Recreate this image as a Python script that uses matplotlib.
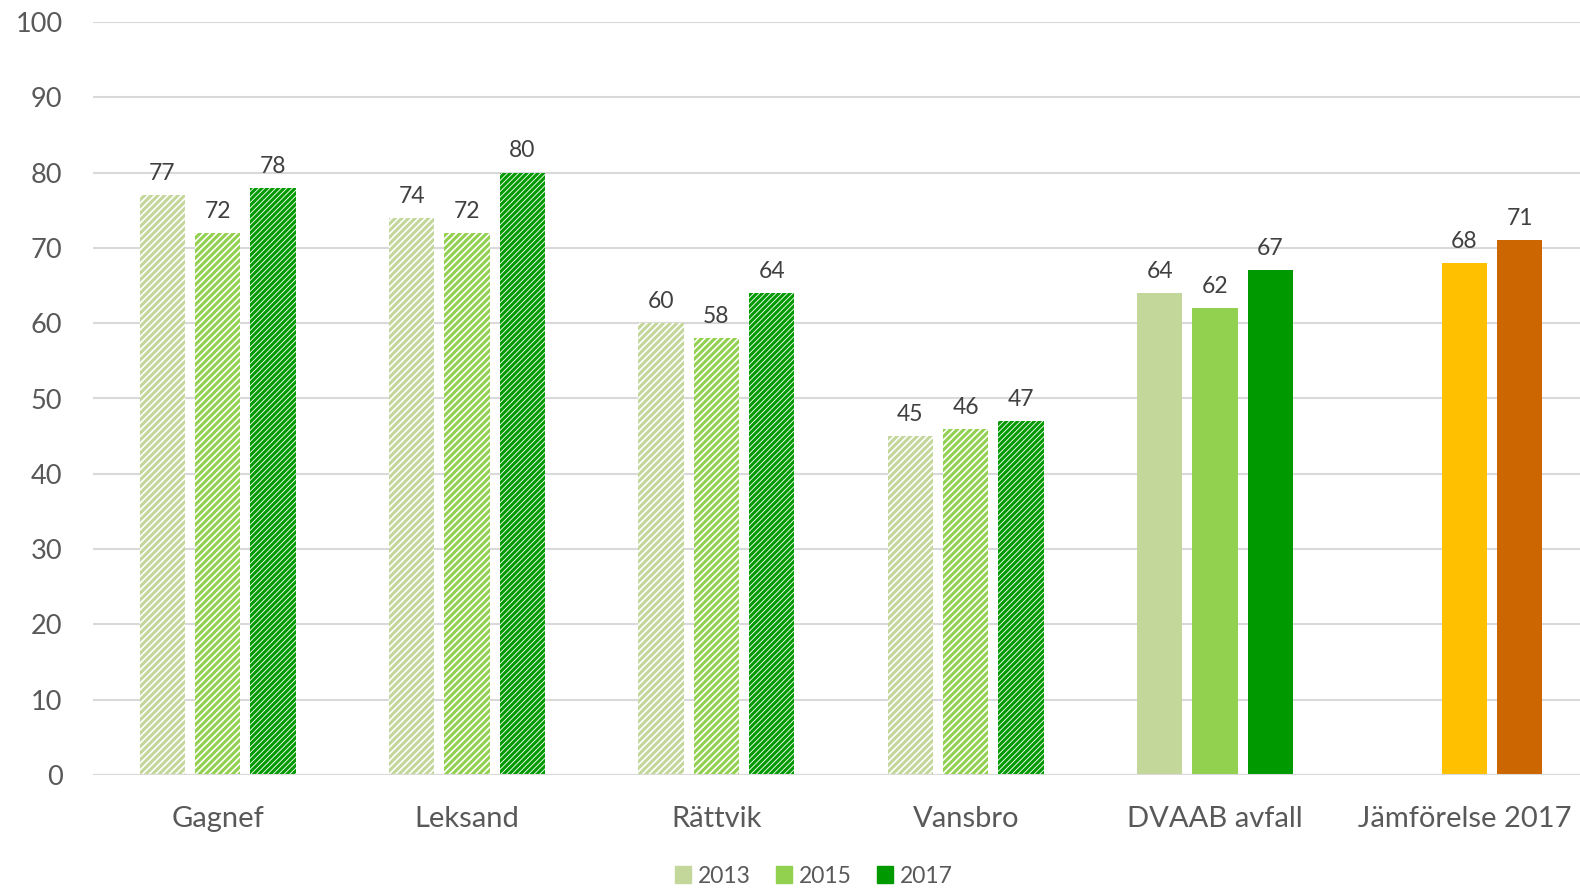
import numpy as np
import matplotlib.pyplot as plt
from matplotlib.patches import Patch

plt.rcParams['font.family'] = ['Lato', 'DejaVu Sans']
plt.rcParams['hatch.linewidth'] = 2.2

categories = ['Gagnef', 'Leksand', 'Rättvik', 'Vansbro', 'DVAAB avfall', 'Jämförelse 2017']
years = ['2013', '2015', '2017']
v2013 = [77, 74, 60, 45, 64, None]
v2015 = [72, 72, 58, 46, 62, 68]
v2017 = [78, 80, 64, 47, 67, 71]

colors = ['#C4D79B', '#92D050', '#009A00']
compare_colors = ['#FFC000', '#CC6600']
hatched_groups = 4

fig = plt.figure(figsize=(15.8, 8.88), dpi=100)
ax = fig.add_axes([93 / 1580, 1 - 775 / 888, 1496 / 1580, (775 - 22) / 888])

x = np.arange(len(categories))
offset = 0.222
width = 0.182
series = [v2013, v2015, v2017]

for s, vals in enumerate(series):
    for i, v in enumerate(vals):
        if v is None:
            continue
        pos = x[i] + (s - 1) * offset
        if i < hatched_groups:
            hatch = '//////' if s == 2 else '/////'
            ax.bar(pos, v, width, facecolor='white', edgecolor=colors[s],
                   linewidth=0, hatch=hatch, zorder=3)
        elif i == len(categories) - 1:
            ax.bar(pos, v, width, color=compare_colors[s - 1], zorder=3)
        else:
            ax.bar(pos, v, width, color=colors[s], zorder=3)
        ax.annotate(str(v), (pos, v), xytext=(0, 8), textcoords='offset points',
                    ha='center', va='bottom', fontsize=16.5, color='#404040')

ax.set_ylim(0, 100)
ax.set_xlim(-0.5, len(categories) - 0.5)
ax.set_yticks(range(0, 101, 10))
ax.set_xticks(x)
ax.set_xticklabels(categories)
ax.tick_params(axis='both', length=0, labelsize=19.5, colors='#595959')
ax.tick_params(axis='x', labelsize=21, pad=22)
ax.tick_params(axis='y', pad=22)
ax.grid(axis='y', color='#D9D9D9', linewidth=1.5, zorder=0)
for sp in ax.spines.values():
    sp.set_visible(False)
ax.axhline(0, color='#D9D9D9', linewidth=1.5, zorder=4)

handles = [Patch(color=c, label=y) for c, y in zip(colors, years)]
fig.legend(handles=handles, loc='center', bbox_to_anchor=(0.515, 1 - 876 / 888),
           ncol=3, frameon=False, fontsize=16.5, labelcolor='#595959',
           handlelength=0.7, handleheight=0.7, handletextpad=0.3, columnspacing=1.1)

fig.savefig('out.png', dpi=100)
